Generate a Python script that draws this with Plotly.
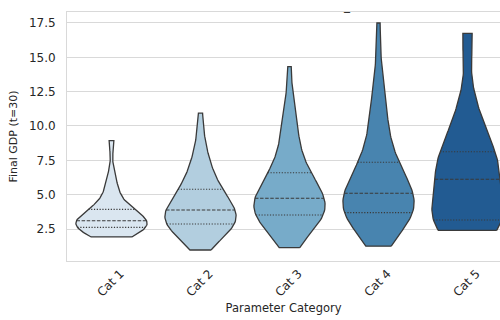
import numpy as np
import colorsys
import plotly.graph_objects as go

# ---------------- data ----------------
categories = ["Cat 1", "Cat 2", "Cat 3", "Cat 4", "Cat 5"]

cat1 = [1.92, 1.99, 2.06, 2.13, 2.19, 2.25, 2.31, 2.37, 2.42, 2.47,
        2.52, 2.57, 2.61, 2.65, 2.69, 2.73, 2.77, 2.81, 2.85, 2.89,
        2.93, 2.97, 3.01, 3.05, 3.08, 3.12, 3.17, 3.23, 3.29, 3.35,
        3.42, 3.49, 3.56, 3.64, 3.72, 3.80, 3.89, 3.94, 4.08, 4.24,
        4.42, 4.63, 4.87, 5.14, 5.45, 5.82, 6.10, 6.75, 8.85, 8.93]
cat2 = [0.97, 1.35, 1.62, 1.83, 2.00, 2.14, 2.26, 2.37, 2.47, 2.57,
        2.66, 2.75, 2.84, 2.92, 3.00, 3.08, 3.16, 3.24, 3.32, 3.40,
        3.48, 3.57, 3.66, 3.75, 3.84, 3.92, 4.02, 4.12, 4.23, 4.34,
        4.46, 4.58, 4.71, 4.85, 5.00, 5.15, 5.33, 5.41, 5.60, 5.82,
        6.05, 6.30, 6.57, 6.86, 7.18, 7.55, 8.00, 8.60, 9.50, 10.93]
cat3 = [1.14, 1.65, 2.00, 2.27, 2.49, 2.68, 2.85, 3.00, 3.13, 3.25,
        3.36, 3.44, 3.50, 3.58, 3.68, 3.78, 3.88, 3.98, 4.08, 4.18,
        4.28, 4.38, 4.48, 4.58, 4.69, 4.79, 4.92, 5.05, 5.19, 5.33,
        5.48, 5.63, 5.79, 5.96, 6.14, 6.33, 6.54, 6.62, 6.92, 7.25,
        7.62, 8.02, 8.45, 8.90, 9.40, 9.92, 10.50, 11.15, 11.90, 14.32]
cat4 = [1.25, 1.80, 2.18, 2.47, 2.70, 2.89, 3.05, 3.19, 3.31, 3.42,
        3.52, 3.60, 3.67, 3.75, 3.86, 3.97, 4.08, 4.19, 4.30, 4.42,
        4.54, 4.66, 4.78, 4.91, 5.05, 5.15, 5.30, 5.46, 5.63, 5.80,
        5.98, 6.17, 6.37, 6.58, 6.80, 7.03, 7.30, 7.38, 7.80, 8.25,
        8.72, 9.22, 9.75, 10.30, 10.88, 11.50, 12.15, 12.90, 14.60, 17.50]
cat5 = [2.40, 2.46, 2.52, 2.58, 2.64, 2.70, 2.76, 2.82, 2.88, 2.94,
        3.00, 3.07, 3.14, 3.22, 3.45, 3.70, 3.95, 4.20, 4.45, 4.70,
        4.95, 5.20, 5.48, 5.76, 6.04, 6.20, 6.37, 6.54, 6.71, 6.88,
        7.05, 7.22, 7.39, 7.56, 7.73, 7.90, 8.09, 8.14, 8.48, 8.84,
        9.22, 9.62, 10.05, 10.52, 11.05, 11.65, 12.25, 16.05, 16.40, 16.75]
samples = [cat1, cat2, cat3, cat4, cat5]

y_ticks = [2.5, 5.0, 7.5, 10.0, 12.5, 15.0, 17.5]

# ---------------- style ----------------
base_colors = ["#d6e6f4", "#abd0e6", "#6aaed6", "#3787c0", "#105ba4"]
EDGE = "#3a3a3a"
TEXT = "#262626"
GRID = "#d9d9d9"


def desaturate(hexc, prop=0.75):
    r, g, b = (int(hexc[i:i + 2], 16) / 255 for i in (1, 3, 5))
    h, l, s = colorsys.rgb_to_hls(r, g, b)
    r, g, b = colorsys.hls_to_rgb(h, l, s * prop)
    return "rgb(%d,%d,%d)" % (round(r * 255), round(g * 255), round(b * 255))


def kde(data, grid):
    x = np.asarray(data, float)
    n = len(x)
    h = x.std(ddof=1) * n ** (-0.2)  # Scott's rule
    z = (grid[:, None] - x[None, :]) / h
    return np.exp(-0.5 * z ** 2).sum(axis=1) / (n * h * np.sqrt(2 * np.pi))


fig = go.Figure()
half = 0.4
for i, (cat, data) in enumerate(zip(categories, samples)):
    x = np.asarray(data, float)
    grid = np.linspace(x.min(), x.max(), 100)
    d = kde(x, grid)
    hw = half * d / d.max()
    xs = np.concatenate([i + hw, (i - hw)[::-1], [i + hw[0]]])
    ys = np.concatenate([grid, grid[::-1], [grid[0]]])
    fig.add_trace(go.Scatter(
        x=xs, y=ys, mode="lines", fill="toself",
        fillcolor=desaturate(base_colors[i]),
        line=dict(color=EDGE, width=1.3),
        hoverinfo="skip", showlegend=False))
    qs = np.percentile(x, [25, 50, 75])
    for q, dash in zip(qs, ["1.2px,1.6px", "3.5px,1.6px", "1.2px,1.6px"]):
        w = half * np.interp(q, grid, d) / d.max()
        fig.add_trace(go.Scatter(
            x=[i - w, i + w], y=[q, q], mode="lines",
            line=dict(color=EDGE, width=1.1, dash=dash),
            hoverinfo="skip", showlegend=False))

fig.update_layout(
    width=500, height=320,
    margin=dict(l=67, r=0, t=12, b=59),
    paper_bgcolor="white", plot_bgcolor="white",
    font=dict(family="DejaVu Sans", color=TEXT, size=12),
    showlegend=False,
)
fig.update_xaxes(
    range=[-0.5, 4.365], tickmode="array",
    tickvals=list(range(len(categories))), ticktext=categories,
    tickangle=-45, ticks="", showgrid=False, zeroline=False,
    showline=True, mirror=True, linecolor=GRID, linewidth=1,
    tickfont=dict(size=12, family="DejaVu Sans", color=TEXT),
    ticklabelshift=9, ticklabelstandoff=0,
    title=dict(text="Parameter Category", font=dict(size=11.5, family="DejaVu Sans", color=TEXT), standoff=5),
)
fig.update_yaxes(
    range=[0.17, 18.3], tickmode="array", tickvals=y_ticks,
    ticktext=["%.1f" % v for v in y_ticks],
    ticks="", showgrid=True, gridcolor=GRID, gridwidth=1, zeroline=False,
    showline=True, mirror=True, linecolor=GRID, linewidth=1,
    tickfont=dict(size=12, family="DejaVu Sans", color=TEXT),
    ticklabelstandoff=8,
    title=dict(text="Final GDP (t=30)", font=dict(size=11, family="DejaVu Sans", color=TEXT), standoff=9),
)
fig.add_annotation(text="_", xref="paper", yref="paper", x=(347 - 67) / 433, y=1.0,
                   yanchor="bottom", showarrow=False, yshift=-3,
                   font=dict(size=12, family="DejaVu Sans", color=TEXT))

fig.write_html("out.html")
